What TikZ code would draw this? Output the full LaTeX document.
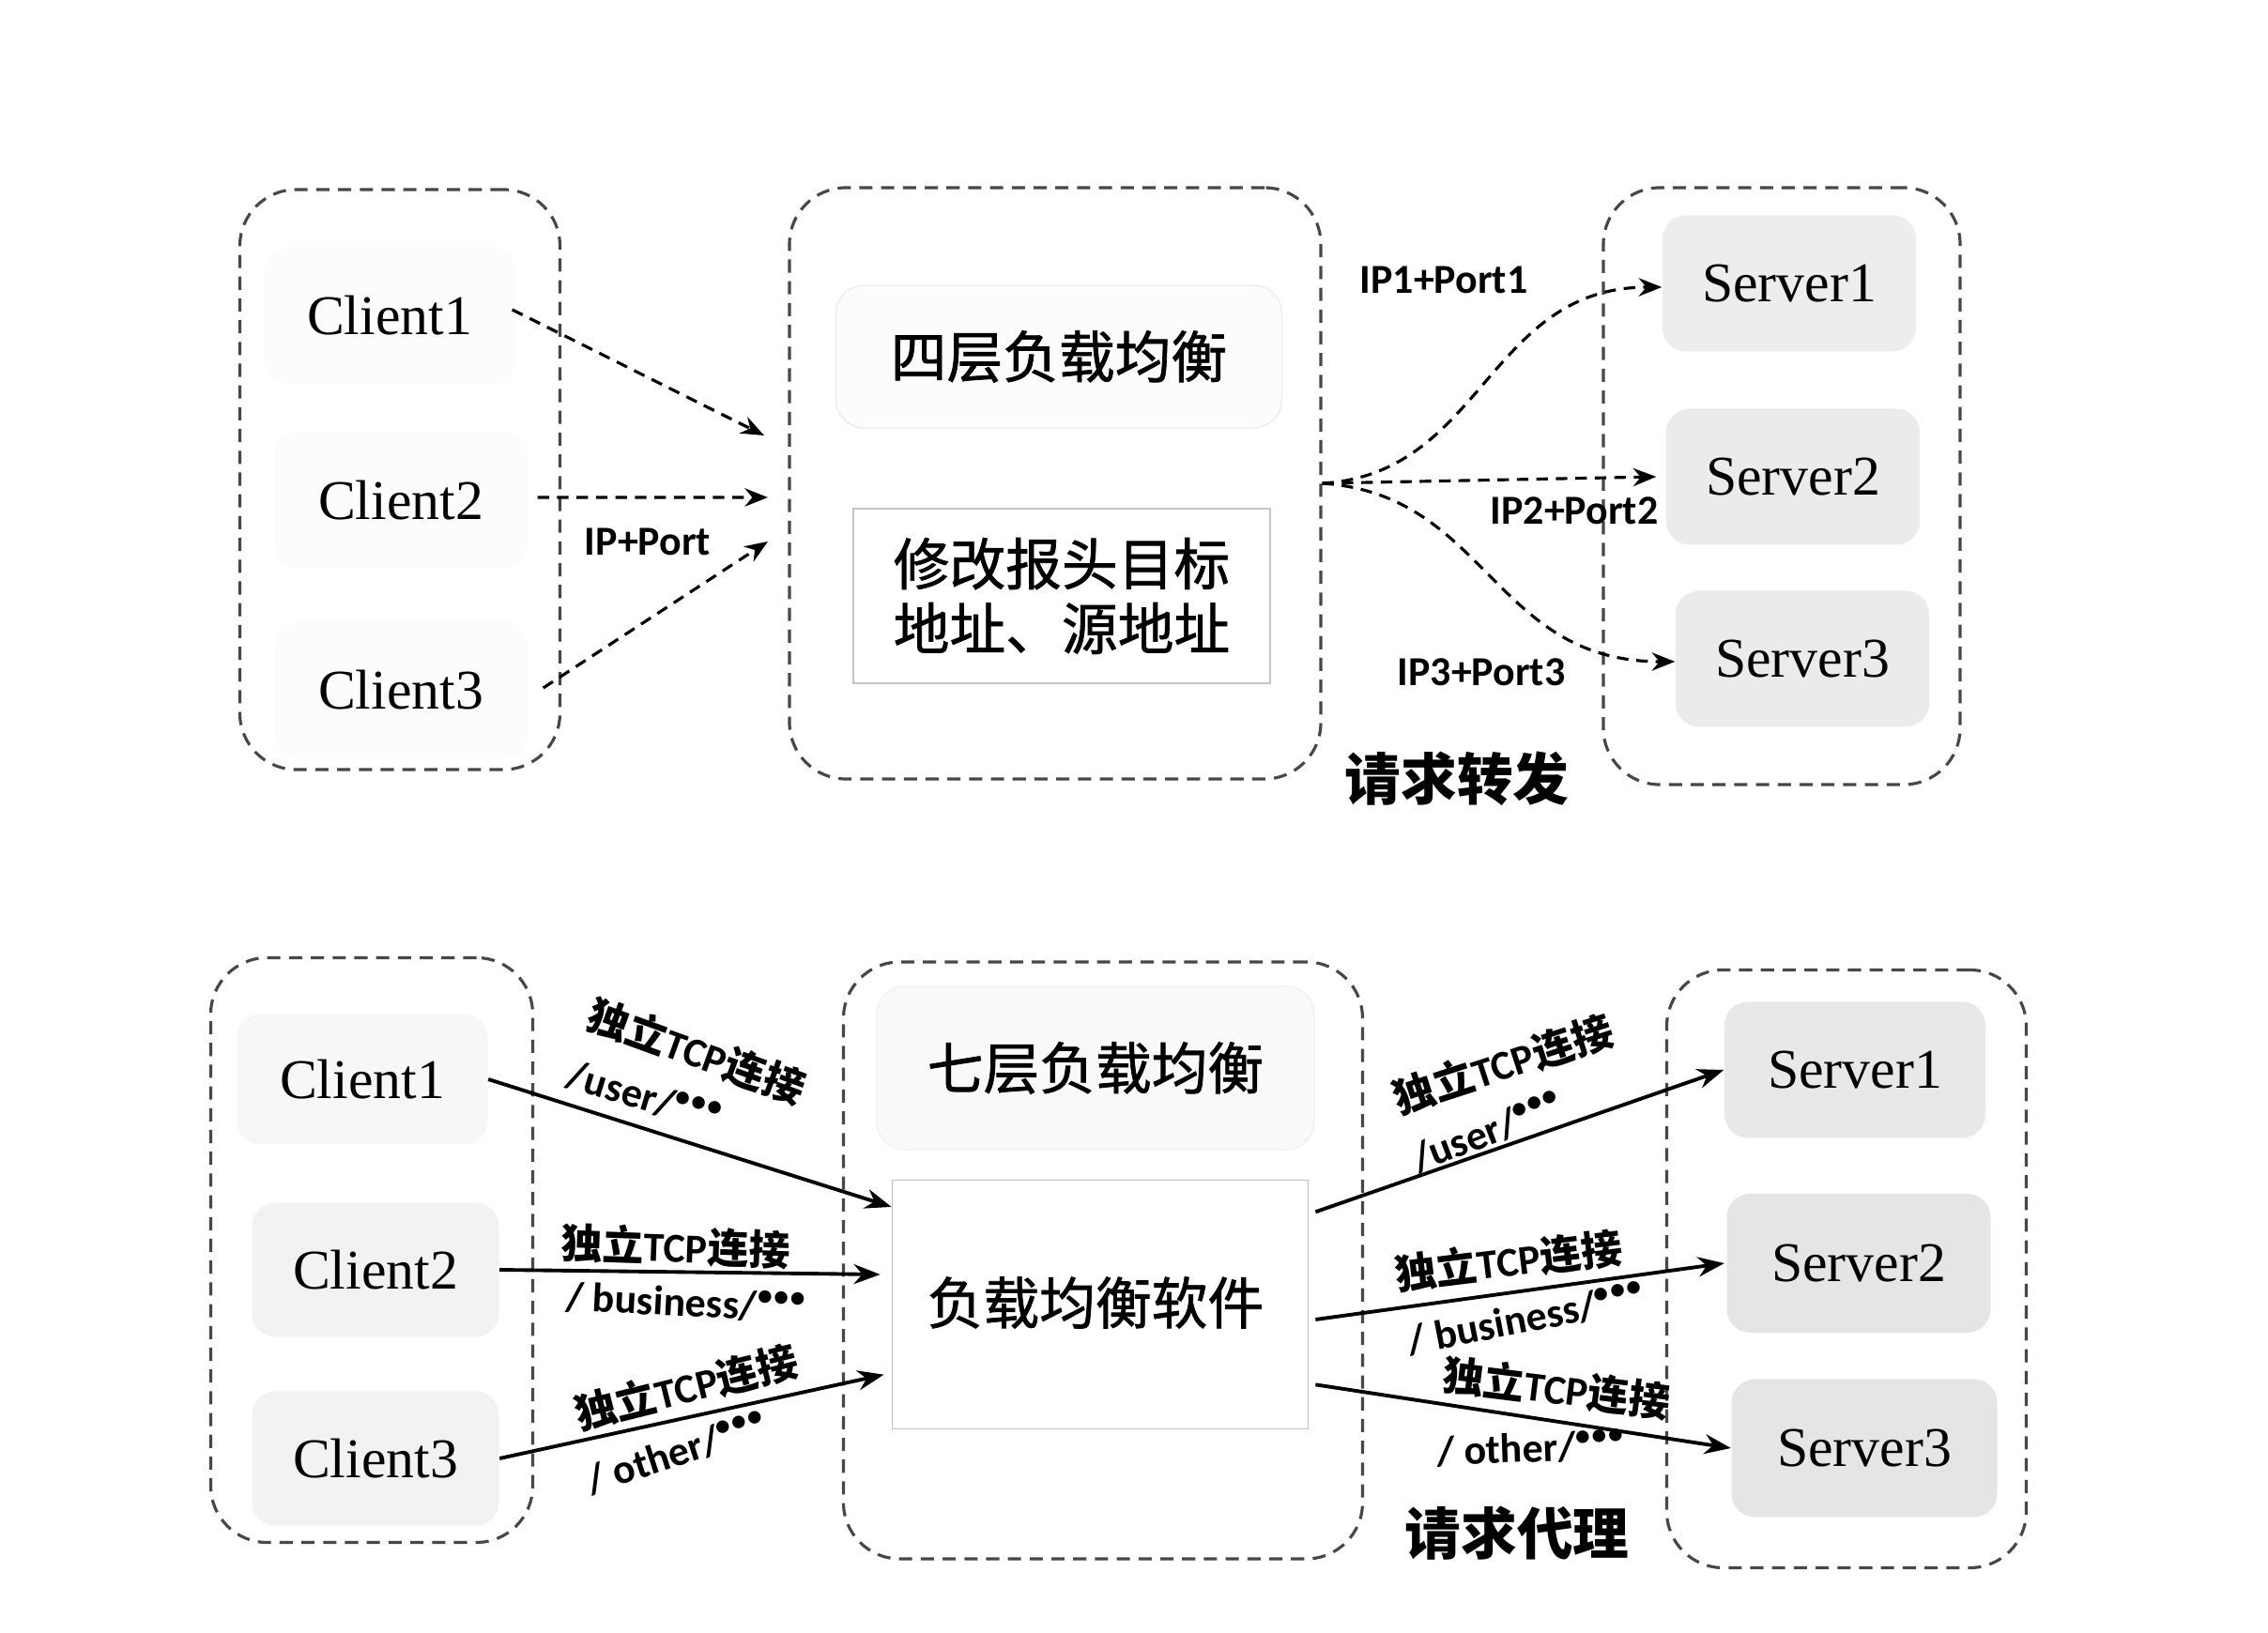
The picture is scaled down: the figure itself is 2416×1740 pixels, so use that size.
\documentclass[tikz,border=0pt]{standalone}
\usepackage{fontspec}
\setmainfont{Liberation Serif}
\newfontfamily\cjk{Noto Sans CJK SC}
\newfontfamily\cjkm{Noto Sans CJK SC}[FakeBold=1.2]
\newfontfamily\lab{Carlito}
\usetikzlibrary{arrows.meta,calc}
\newcommand\mydots{\raisebox{0.75ex}{\fontsize{9pt}{9pt}\selectfont •\kern0.5pt•\kern0.5pt•}}
\begin{document}
\begin{tikzpicture}[x=0.1mm,y=-0.1mm,
  cont/.style={draw=black!72, line width=0.9pt, dash pattern=on 4pt off 2.6pt, rounded corners=6mm, inner sep=0pt},
  cbox/.style={fill=#1, rounded corners=2.5mm, inner sep=0pt, minimum width=27mm, minimum height=14.5mm, font=\fontsize{17pt}{20pt}\selectfont},
  cbox/.default=gray!8,
  zhbig/.style={font=\cjkm\fontsize{17pt}{19.6pt}\selectfont, align=center, inner sep=0pt},
  lbl/.style={font=\lab\bfseries\fontsize{12.5pt}{14pt}\selectfont, inner sep=0pt},
  title/.style={font=\cjk\bfseries\fontsize{17pt}{20pt}\selectfont, inner sep=0pt},
  darr/.style={draw=black, line width=0.9pt, dash pattern=on 3.5pt off 2.4pt, -{Stealth[length=7pt,width=5.5pt]}},
  sarr/.style={draw=black, line width=1.1pt, -{Stealth[length=8pt,width=6pt]}},
]
\fill[white] (0,0) rectangle (2416,1740);
\useasboundingbox (0,0) rectangle (2416,1740);

% ---------------- top: request forwarding ----------------
\node[cont, minimum width=34.1mm, minimum height=61.8mm] (tL) at (426,511) {};
\node[cont, minimum width=56.6mm, minimum height=63mm] (tM) at (1124,515) {};
\node[cont, minimum width=38mm, minimum height=63.6mm] (tR) at (1898,518) {};

\node[cbox=gray!2] (tc1) at (415,336) {Client1};
\node[cbox=gray!2] (tc2) at (427,533) {Client2};
\node[cbox=gray!2] (tc3) at (427,735) {Client3};

\node[zhbig, draw=gray!14, fill=gray!2, rounded corners=3mm, minimum width=47.5mm, minimum height=15.2mm] (t4) at (1128,380) {四层负载均衡};
\node[zhbig, draw=gray!45, line width=0.5pt, fill=white, minimum width=44.4mm, minimum height=18.6mm] (tmod) at (1131,635) {修改报头目标\\地址、源地址};

\node[cbox=gray!14] (ts1) at (1906,302) {Server1};
\node[cbox=gray!16] (ts2) at (1910,508) {Server2};
\node[cbox=gray!16] (ts3) at (1920,702) {Server3};

\coordinate (ti1) at (814,464);
\coordinate (ti2) at (818,530);
\coordinate (ti3) at (818,577);
\draw[darr] ([xshift=-0.5mm,yshift=0.6mm]tc1.east) -- (ti1);
\draw[darr] ([xshift=1mm,yshift=0.3mm]tc2.east) -- (ti2);
\draw[darr] ([xshift=1.6mm,yshift=0.2mm]tc3.east) -- (ti3);
\node[lbl] (tlab0) at (690,577) {IP+Port};

\draw[darr] (tM.east) .. controls (1580,505) and (1585,306) .. ([yshift=-0.4mm]ts1.west);
\draw[darr] (tM.east) -- ([xshift=-1mm]ts2.west);
\draw[darr] (tM.east) .. controls (1585,527) and (1590,705) .. ([yshift=-0.3mm]ts3.west);
\node[lbl] (tlab1) at (1538,298) {IP1+Port1};
\node[lbl] (tlab2) at (1677,544) {IP2+Port2};
\node[lbl] (tlab3) at (1578,716) {IP3+Port3};
\node[title] (ttitle) at (1552,830) {请求转发};

% ---------------- bottom: request proxy ----------------
\node[cont, minimum width=34.3mm, minimum height=62.3mm] (bL) at (396,1332) {};
\node[cont, minimum width=55.3mm, minimum height=63.6mm] (bM) at (1175,1343) {};
\node[cont, minimum width=38.3mm, minimum height=63.7mm] (bR) at (1967,1352) {};

\node[cbox=gray!6, minimum width=26.7mm, minimum height=13.9mm] (bc1) at (386,1150) {Client1};
\node[cbox=gray!10, minimum width=26.3mm, minimum height=14.3mm] (bc2) at (400,1353) {Client2};
\node[cbox=gray!10, minimum width=26.3mm, minimum height=14.3mm] (bc3) at (400,1554) {Client3};

\node[zhbig, draw=gray!12, fill=gray!5, rounded corners=3mm, minimum width=46.6mm, minimum height=17.4mm] (b7) at (1167,1138) {七层负载均衡};
\node[zhbig, draw=gray!50, line width=0.5pt, fill=white, minimum width=44.3mm, minimum height=26.5mm] (bsoft) at (1172,1390) {};
\node[zhbig] (bsoftt) at (1167,1388) {负载均衡软件};

\node[cbox=gray!18, minimum width=27.8mm, minimum height=14.5mm] (bs1) at (1976,1140) {Server1};
\node[cbox=gray!20, minimum width=28.1mm, minimum height=14.8mm] (bs2) at (1980,1346) {Server2};
\node[cbox=gray!20, minimum width=28.3mm, minimum height=14.7mm] (bs3) at (1986,1543) {Server3};

\draw[sarr] (bc1.east) -- ($(bsoft.north west)!0.11!(bsoft.south west)$);
\draw[sarr] (bc2.east) -- ($(bsoft.north west)!0.38!(bsoft.south west)+(-12,0)$);
\draw[sarr] (bc3.east) -- ($(bsoft.north west)!0.78!(bsoft.south west)+(-8,0)$);
\draw[sarr] ($(bsoft.north east)!0.13!(bsoft.south east)+(7,0)$) -- (bs1.west);
\draw[sarr] ($(bsoft.north east)!0.56!(bsoft.south east)+(7,0)$) -- ([xshift=-0.2mm]bs2.west);
\draw[sarr] ($(bsoft.north east)!0.82!(bsoft.south east)+(7,0)$) -- (bs3.west);

\node[lbl, rotate=-20] (l1a) at (742,1120) {{\cjk 独立}TCP{\cjk 连接}};
\node[lbl, rotate=-17] (l1b) at (686,1168) {/user/\mydots};
\node[lbl, rotate=-2] (l2a) at (720,1328) {{\cjk 独立}TCP{\cjk 连接}};
\node[lbl, rotate=-3] (l2b) at (730,1388) {/ business/\mydots};
\node[lbl, rotate=14] (l3a) at (731,1478) {{\cjk 独立}TCP{\cjk 连接}};
\node[lbl, rotate=18] (l3b) at (720,1548) {/ other/\mydots};

\node[lbl, rotate=18] (r1a) at (1601,1134) {{\cjk 独立}TCP{\cjk 连接}};
\node[lbl, rotate=21] (r1b) at (1584,1206) {/user/\mydots};
\node[lbl, rotate=7] (r2a) at (1607,1343) {{\cjk 独立}TCP{\cjk 连接}};
\node[lbl, rotate=11] (r2b) at (1625,1405) {/ business/\mydots};
\node[lbl, rotate=-7] (r3a) at (1658,1479) {{\cjk 独立}TCP{\cjk 连接}};
\node[lbl, rotate=2] (r3b) at (1630,1543) {/ other/\mydots};

\node[title] (btitle) at (1616,1634) {请求代理};
\end{tikzpicture}
\end{document}
